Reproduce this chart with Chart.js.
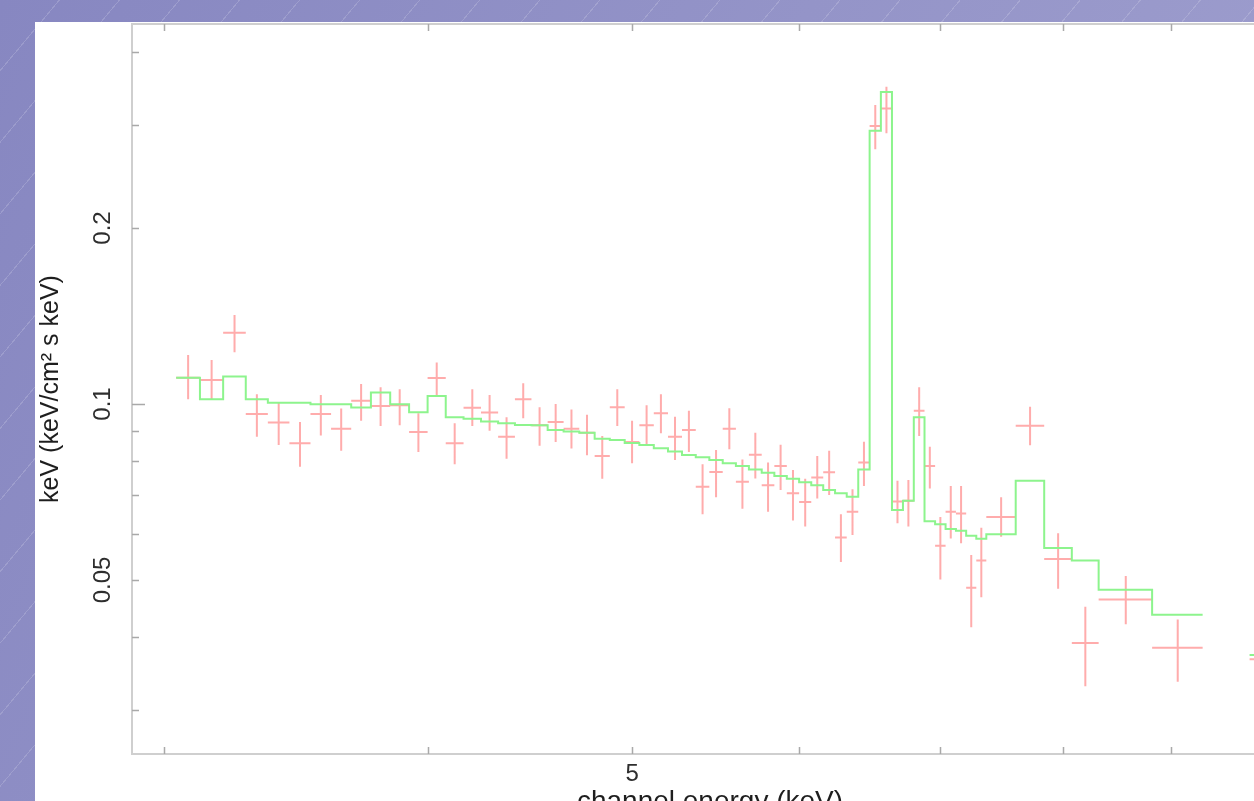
<!DOCTYPE html>
<html>
<head>
<meta charset="utf-8">
<title>Spectrum</title>
<script src="https://cdn.jsdelivr.net/npm/chart.js@4.4.1/dist/chart.umd.min.js"></script>
<style>
  html, body { margin: 0; padding: 0; width: 1254px; height: 801px; overflow: hidden; }
  body {
    background:
      repeating-linear-gradient(130deg, rgba(255,255,255,0) 0px, rgba(255,255,255,0) 45px,
                                rgba(255,255,255,0.16) 45px, rgba(255,255,255,0.16) 46px),
      linear-gradient(115deg, #8787c1 0%, #9494c8 50%, #a0a0cf 100%);
  }
  #panel { position: absolute; left: 35px; top: 22px; width: 1290px; height: 830px; background: #fff; }
  canvas { display: block; }
</style>
</head>
<body>
<div id="panel"><canvas id="spec" width="1290" height="830"></canvas></div>
<script>
// Channel bins (keV)
const binLow = [3.04, 3.12, 3.20, 3.28, 3.36, 3.44, 3.52, 3.60, 3.68, 3.76, 3.84, 3.92, 4.00, 4.08, 4.16, 4.24,
  4.32, 4.40, 4.48, 4.56, 4.64, 4.72, 4.80, 4.88, 4.96, 5.04, 5.12, 5.20, 5.28, 5.36, 5.44, 5.52, 5.60, 5.68,
  5.76, 5.84, 5.92, 6.00, 6.08, 6.16, 6.24, 6.32, 6.40, 6.48, 6.56, 6.64, 6.72, 6.80, 6.88, 6.96, 7.04, 7.12,
  7.20, 7.28, 7.36, 7.60, 7.84, 8.08, 8.32, 8.82, 9.81];
const binHigh = [3.12, 3.20, 3.28, 3.36, 3.44, 3.52, 3.60, 3.68, 3.76, 3.84, 3.92, 4.00, 4.08, 4.16, 4.24, 4.32,
  4.40, 4.48, 4.56, 4.64, 4.72, 4.80, 4.88, 4.96, 5.04, 5.12, 5.20, 5.28, 5.36, 5.44, 5.52, 5.60, 5.68, 5.76,
  5.84, 5.92, 6.00, 6.08, 6.16, 6.24, 6.32, 6.40, 6.48, 6.56, 6.64, 6.72, 6.80, 6.88, 6.96, 7.04, 7.12, 7.20,
  7.28, 7.36, 7.60, 7.84, 8.08, 8.32, 8.82, 9.32, 10.60];

// Unfolded spectrum E*F(E) and its 1-sigma range
const fluxValue = [0.1109, 0.1099, 0.1324, 0.0961, 0.0930, 0.0857, 0.0961, 0.0907, 0.1013, 0.0992, 0.0995, 0.0896,
  0.1108, 0.0857, 0.0985, 0.0967, 0.0879, 0.1019, 0.0920, 0.0932, 0.0907, 0.0893, 0.0815, 0.0987, 0.0861, 0.0920,
  0.0964, 0.0879, 0.0903, 0.0722, 0.0765, 0.0907, 0.0736, 0.0819, 0.0726, 0.0783, 0.0704, 0.0680, 0.0749, 0.0764,
  0.0591, 0.0654, 0.0794, 0.2989, 0.3203, 0.0681, 0.0683, 0.0974, 0.0783, 0.0572, 0.0654, 0.0650, 0.0485, 0.0540,
  0.0641, 0.0918, 0.0543, 0.0390, 0.0463, 0.0383, 0.0366];
const fluxHigh = [0.1213, 0.1189, 0.1420, 0.1039, 0.1005, 0.0932, 0.1036, 0.0982, 0.1082, 0.1068, 0.1060, 0.0964,
  0.1177, 0.0927, 0.1060, 0.1036, 0.0949, 0.1085, 0.0987, 0.1000, 0.0979, 0.0959, 0.0882, 0.1060, 0.0936, 0.0995,
  0.1039, 0.0951, 0.0974, 0.0789, 0.0834, 0.0983, 0.0804, 0.0893, 0.0794, 0.0852, 0.0771, 0.0745, 0.0815, 0.0832,
  0.0648, 0.0715, 0.0862, 0.3245, 0.3489, 0.0739, 0.0741, 0.1068, 0.0845, 0.0641, 0.0724, 0.0724, 0.0552, 0.0614,
  0.0693, 0.0989, 0.0601, 0.0450, 0.0508, 0.0428, 0.0372];
const fluxLow = [0.1019, 0.1020, 0.1226, 0.0879, 0.0851, 0.0781, 0.0883, 0.0832, 0.0936, 0.0917, 0.0920, 0.0828,
  0.1032, 0.0789, 0.0917, 0.0900, 0.0806, 0.0945, 0.0848, 0.0861, 0.0839, 0.0817, 0.0745, 0.0917, 0.0792, 0.0850,
  0.0891, 0.0802, 0.0828, 0.0648, 0.0693, 0.0837, 0.0662, 0.0746, 0.0654, 0.0713, 0.0632, 0.0617, 0.0689, 0.0699,
  0.0537, 0.0597, 0.0724, 0.2727, 0.2904, 0.0625, 0.0617, 0.0882, 0.0717, 0.0501, 0.0589, 0.0578, 0.0415, 0.0467,
  0.0593, 0.0850, 0.0483, 0.0329, 0.0420, 0.0335, 0.0360];

// Folded model, one value per bin
const modelValue = [0.1109, 0.1019, 0.1114, 0.1019, 0.1005, 0.1005, 0.0999, 0.0999, 0.0986, 0.1046, 0.0999, 0.0968,
  0.1032, 0.0949, 0.0944, 0.0933, 0.0927, 0.0921, 0.0920, 0.0903, 0.0897, 0.0893, 0.0872, 0.0868, 0.0858, 0.0851,
  0.0840, 0.0829, 0.0818, 0.0811, 0.0802, 0.0792, 0.0783, 0.0773, 0.0763, 0.0753, 0.0745, 0.0735, 0.0726, 0.0713,
  0.0704, 0.0694, 0.0773, 0.2934, 0.3417, 0.0659, 0.0683, 0.0949, 0.0630, 0.0623, 0.0611, 0.0607, 0.0595, 0.0588,
  0.0599, 0.0739, 0.0567, 0.0540, 0.0481, 0.0436, 0.0372];

// Axis ticks
const xTickValues = [3, 4, 5, 6, 7, 8, 9, 10];
const xMajorTicks = [10];
const xLabelValues = [5];
const yTickValues = [0.03, 0.04, 0.05, 0.06, 0.07, 0.08, 0.09, 0.1, 0.2, 0.3, 0.4];
const yMajorTicks = [0.1];
const yLabelValues = [0.05, 0.1, 0.2];
const yLabelText = ['0.05', '0.1', '0.2'];

const FONT = '"Liberation Sans", Arial, Helvetica, sans-serif';

// Error crosses: vertical bar, gap, horizontal bar, gap
const crossPoints = [];
binLow.forEach((lo, i) => {
  const hi = binHigh[i];
  const mid = (lo + hi) / 2;
  crossPoints.push(
    { x: mid, y: fluxLow[i] }, { x: mid, y: fluxHigh[i] }, { x: mid, y: null },
    { x: lo, y: fluxValue[i] }, { x: hi, y: fluxValue[i] }, { x: hi, y: null }
  );
});

// Histogram of the model, broken where the bins are not contiguous
const modelPoints = [];
binLow.forEach((lo, i) => {
  if (i > 0 && Math.abs(lo - binHigh[i - 1]) > 1e-6) {
    modelPoints.push({ x: binHigh[i - 1], y: modelValue[i - 1] }, { x: binHigh[i - 1], y: null });
  }
  modelPoints.push({ x: lo, y: modelValue[i] });
});
modelPoints.push({ x: binHigh[binHigh.length - 1], y: modelValue[modelValue.length - 1] });

// Frame, inward tick marks and rotated y labels
const framePlugin = {
  id: 'framePlugin',
  beforeDatasetsDraw(chart) {
    const { ctx, chartArea: a, scales: { x, y } } = chart;
    ctx.save();
    ctx.strokeStyle = '#cfcfcf';
    ctx.lineWidth = 2;
    ctx.strokeRect(a.left, a.top, a.right - a.left, a.bottom - a.top);

    ctx.strokeStyle = '#a9a9a9';
    ctx.lineWidth = 1.5;
    ctx.beginPath();
    xTickValues.forEach(v => {
      const px = Math.round(x.getPixelForValue(v)) + 0.5;
      const len = xMajorTicks.includes(v) ? 13 : 7;
      ctx.moveTo(px, a.bottom); ctx.lineTo(px, a.bottom - len);
      ctx.moveTo(px, a.top); ctx.lineTo(px, a.top + len);
    });
    yTickValues.forEach(v => {
      const py = Math.round(y.getPixelForValue(v)) + 0.5;
      const len = yMajorTicks.includes(v) ? 13 : 7;
      ctx.moveTo(a.left, py); ctx.lineTo(a.left + len, py);
      ctx.moveTo(a.right, py); ctx.lineTo(a.right - len, py);
    });
    ctx.stroke();

    ctx.fillStyle = '#2e2e2e';
    ctx.font = '24px ' + FONT;
    ctx.textAlign = 'center';
    ctx.textBaseline = 'middle';
    yLabelValues.forEach((v, i) => {
      ctx.save();
      ctx.translate(68, y.getPixelForValue(v));
      ctx.rotate(-Math.PI / 2);
      ctx.fillText(yLabelText[i], 0, 0);
      ctx.restore();
    });
    ctx.restore();
  }
};

new Chart(document.getElementById('spec'), {
  type: 'scatter',
  data: {
    datasets: [
      {
        label: 'model',
        data: modelPoints,
        showLine: true,
        stepped: 'before',
        borderColor: '#8df48d',
        borderWidth: 2,
        pointRadius: 0,
        fill: false
      },
      {
        label: 'data',
        data: crossPoints,
        showLine: true,
        spanGaps: false,
        borderColor: 'rgba(255, 90, 90, 0.5)',
        borderWidth: 2,
        pointRadius: 0,
        fill: false
      }
    ]
  },
  options: {
    responsive: false,
    animation: false,
    events: [],
    layout: { padding: { top: 2, left: 0, right: 37, bottom: 0 } },
    plugins: { legend: { display: false }, tooltip: { enabled: false } },
    scales: {
      x: {
        type: 'logarithmic',
        position: 'bottom',
        min: 2.897,
        max: 10.23,
        grid: { display: false, drawTicks: false },
        border: { display: false },
        afterBuildTicks: s => { s.ticks = xTickValues.map(v => ({ value: v })); },
        afterFit: s => { s.height = 98; },
        ticks: {
          autoSkip: false,
          maxRotation: 0,
          padding: 6,
          color: '#2e2e2e',
          font: { family: FONT, size: 24 },
          callback: v => (xLabelValues.includes(v) ? String(v) : '')
        },
        title: {
          display: true,
          text: 'channel energy (keV)',
          color: '#1e1e1e',
          font: { family: FONT, size: 28 },
          padding: { top: 0, bottom: 33 }
        }
      },
      y: {
        type: 'logarithmic',
        position: 'left',
        min: 0.0252,
        max: 0.4466,
        grid: { display: false, drawTicks: false },
        border: { display: false },
        afterBuildTicks: s => { s.ticks = yTickValues.map(v => ({ value: v })); },
        afterFit: s => { s.width = 97; },
        ticks: { display: false },
        title: {
          display: true,
          text: 'keV (keV/cm\u00B2 s keV)',
          color: '#1e1e1e',
          font: { family: FONT, size: 25 },
          padding: { top: 1, bottom: 0 }
        }
      }
    }
  },
  plugins: [framePlugin]
});
</script>
</body>
</html>
